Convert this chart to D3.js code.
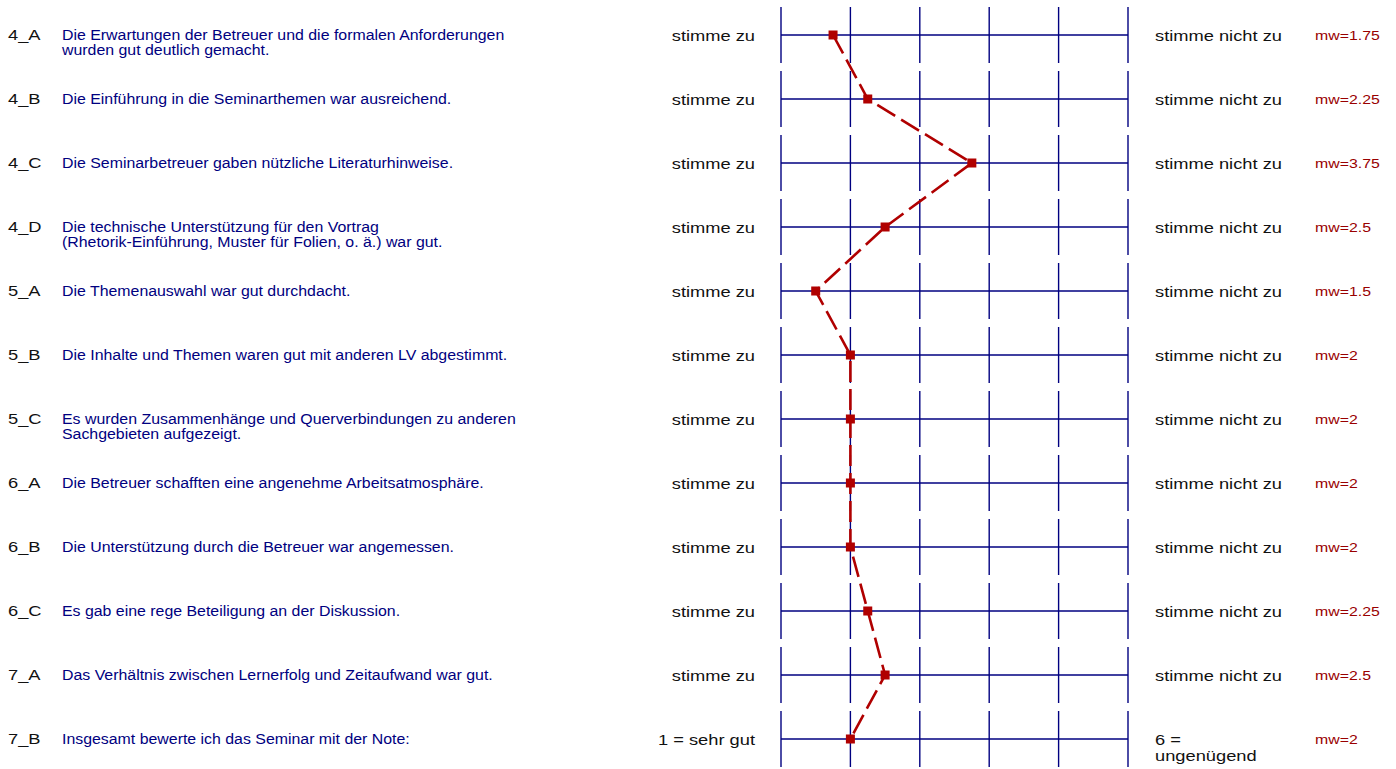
<!DOCTYPE html>
<html>
<head>
<meta charset="utf-8">
<script src="https://cdn.jsdelivr.net/npm/d3@7"></script>
<style>
  body { margin: 0; background: #fff; }
  text { font-family: "Liberation Sans", Arial, sans-serif; }
</style>
</head>
<body>
<div id="chart"></div>
<script>
const width = 1396;
const height = 769;

const ids = ["4_A", "4_B", "4_C", "4_D", "5_A", "5_B", "5_C", "6_A", "6_B", "6_C", "7_A", "7_B"];
const questions = [
    ["Die Erwartungen der Betreuer und die formalen Anforderungen", "wurden gut deutlich gemacht."],
    ["Die Einführung in die Seminarthemen war ausreichend."],
    ["Die Seminarbetreuer gaben nützliche Literaturhinweise."],
    ["Die technische Unterstützung für den Vortrag", "(Rhetorik-Einführung, Muster für Folien, o. ä.) war gut."],
    ["Die Themenauswahl war gut durchdacht."],
    ["Die Inhalte und Themen waren gut mit anderen LV abgestimmt."],
    ["Es wurden Zusammenhänge und Querverbindungen zu anderen", "Sachgebieten aufgezeigt."],
    ["Die Betreuer schafften eine angenehme Arbeitsatmosphäre."],
    ["Die Unterstützung durch die Betreuer war angemessen."],
    ["Es gab eine rege Beteiligung an der Diskussion."],
    ["Das Verhältnis zwischen Lernerfolg und Zeitaufwand war gut."],
    ["Insgesamt bewerte ich das Seminar mit der Note:"]
];
const leftLabels = ["stimme zu", "stimme zu", "stimme zu", "stimme zu", "stimme zu", "stimme zu",
    "stimme zu", "stimme zu", "stimme zu", "stimme zu", "stimme zu", "1 = sehr gut"];
const rightLabels = [
    ["stimme nicht zu"], ["stimme nicht zu"], ["stimme nicht zu"], ["stimme nicht zu"],
    ["stimme nicht zu"], ["stimme nicht zu"], ["stimme nicht zu"], ["stimme nicht zu"],
    ["stimme nicht zu"], ["stimme nicht zu"], ["stimme nicht zu"], ["6 =", "ungenügend"]
];
const means = [1.75, 2.25, 3.75, 2.5, 1.5, 2, 2, 2, 2, 2.25, 2.5, 2];
const scaleTicks = [1, 2, 3, 4, 5, 6];

const navy = "#000080";
const red = "#b00000";
const rowHalf = 28;

const x = d3.scaleLinear().domain([1, 6]).range([781, 1128]);
const y = d3.scalePoint().domain(ids).range([35, 739]);

const svg = d3.select("#chart")
    .append("svg")
        .attr("width", width)
        .attr("height", height)
        .attr("viewBox", [0, 0, width, height]);

const rows = ids.map((id, i) => ({
    id: id,
    question: questions[i],
    left: leftLabels[i],
    right: rightLabels[i],
    mean: means[i]
}));

// stretched text helper (reference glyphs are a bit wider than plain Arial)
function label(g, xPos, lines, opts) {
    const t = g.append("text")
        .attr("transform", "translate(" + xPos + "," + opts.dy + ") scale(" + opts.sx + ",1)")
        .attr("fill", opts.fill)
        .attr("font-size", opts.size)
        .attr("text-anchor", opts.anchor || "start");
    lines.forEach((s, k) => {
        t.append("tspan").attr("x", 0).attr("y", k * opts.gap).text(s);
    });
}

const row = svg.append("g").selectAll(".row")
    .data(rows)
    .enter().append("g")
        .attr("class", "row")
        .attr("transform", d => "translate(0," + y(d.id) + ")");

// grid
row.append("line")
    .attr("x1", x(1)).attr("x2", x(6))
    .attr("stroke", navy).attr("stroke-width", 1.4);

row.each(function() {
    d3.select(this).selectAll(".tick")
        .data(scaleTicks)
        .enter().append("line")
            .attr("class", "tick")
            .attr("x1", t => x(t)).attr("x2", t => x(t))
            .attr("y1", -rowHalf).attr("y2", rowHalf)
            .attr("stroke", navy).attr("stroke-width", 1.4);
});

// texts
row.each(function(d) {
    const g = d3.select(this);
    label(g, 8, [d.id], { dy: 5, sx: 1.18, size: 15.5, gap: 15.5, fill: "#111" });
    label(g, 62, d.question, { dy: 4.5, sx: 1.025, size: 15.5, gap: 15.5, fill: navy });
    label(g, 755, [d.left], { dy: 5.5, sx: 1.18, size: 15.5, gap: 16, fill: "#111", anchor: "end" });
    label(g, 1155, d.right, { dy: 5.5, sx: 1.18, size: 15.5, gap: 16.5, fill: "#111" });
    label(g, 1315, ["mw=" + d.mean], { dy: 5, sx: 1.22, size: 13, gap: 14, fill: "#990000" });
});

// mean line
const line = d3.line()
    .x(d => x(d.mean))
    .y(d => y(d.id));

svg.append("path")
    .datum(rows)
    .attr("fill", "none")
    .attr("stroke", red)
    .attr("stroke-width", 2.6)
    .attr("stroke-dasharray", "21,7")
    .attr("d", line);

svg.append("g").selectAll(".marker")
    .data(rows)
    .enter().append("rect")
        .attr("class", "marker")
        .attr("x", d => x(d.mean) - 4.5)
        .attr("y", d => y(d.id) - 4.5)
        .attr("width", 9)
        .attr("height", 9)
        .attr("fill", red);
</script>
</body>
</html>
